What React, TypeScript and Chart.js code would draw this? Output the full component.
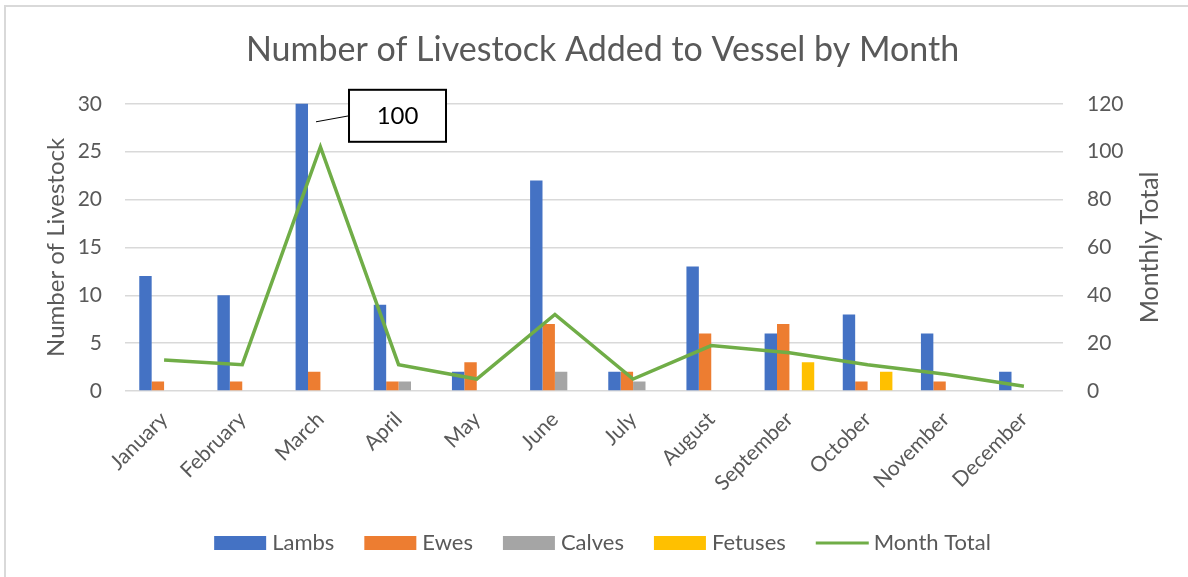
import React, { useEffect, useRef } from "react";
import { Chart, registerables } from "chart.js";

Chart.register(...registerables);

const months = ["January", "February", "March", "April", "May", "June", "July", "August", "September", "October", "November", "December"];
const lambs = [12, 10, 100, 9, 2, 22, 2, 13, 6, 8, 6, 2];
const ewes = [1, 1, 2, 1, 3, 7, 2, 6, 7, 1, 1, 0];
const calves = [0, 0, 0, 1, 0, 2, 1, 0, 0, 0, 0, 0];
const fetuses = [0, 0, 0, 0, 0, 0, 0, 0, 3, 2, 0, 0];
const monthTotal = [13, 11, 102, 11, 5, 32, 5, 19, 16, 11, 7, 2];
const leftTicks = { min: 0, max: 30, step: 5 };
const rightTicks = { min: 0, max: 120, step: 20 };
const calloutIndex = 2;
const rightTitle = "Monthly Total";

const TEXT = "#595959";
const FONT = "Lato, 'Open Sans', sans-serif";

const calloutPlugin = {
  id: "callout",
  afterDatasetsDraw(chart: any) {
    const meta = chart.getDatasetMeta(0);
    const bar = meta.data[calloutIndex];
    if (!bar) return;
    const { x, y, width } = bar.getProps(["x", "y", "width"], true);
    const top = Math.max(y, chart.chartArea.top);
    const right = x + width / 2;
    const ctx = chart.ctx;
    ctx.save();
    ctx.strokeStyle = "#000";
    ctx.lineWidth = 1;
    ctx.beginPath();
    ctx.moveTo(right + 8, top + 18);
    ctx.lineTo(right + 41, top + 12);
    ctx.stroke();
    ctx.fillStyle = "#fff";
    ctx.lineWidth = 2;
    ctx.fillRect(right + 41, top - 14, 97, 52);
    ctx.strokeRect(right + 41, top - 14, 97, 52);
    ctx.fillStyle = "#000";
    ctx.font = `24px ${FONT}`;
    ctx.textAlign = "center";
    ctx.textBaseline = "middle";
    ctx.fillText(String(lambs[calloutIndex]), right + 41 + 48.5, top + 12);
    ctx.restore();
  },
};

const rightTitlePlugin = {
  id: "rightTitle",
  afterDraw(chart: any) {
    const s = chart.scales.y1;
    const ctx = chart.ctx;
    ctx.save();
    ctx.translate(s.right - 17, (chart.chartArea.top + chart.chartArea.bottom) / 2);
    ctx.rotate(-Math.PI / 2);
    ctx.fillStyle = TEXT;
    ctx.font = `25px ${FONT}`;
    ctx.textAlign = "center";
    ctx.textBaseline = "middle";
    ctx.fillText(rightTitle, 0, 0);
    ctx.restore();
  },
};

const legendMarkPlugin = {
  id: "legendMarks",
  afterDraw(chart: any) {
    const legend = chart.legend;
    if (!legend || !legend.legendHitBoxes) return;
    const ctx = chart.ctx;
    ctx.save();
    legend.legendHitBoxes.forEach((hb: any, i: number) => {
      const item = legend.legendItems[i];
      const ds = chart.data.datasets[item.datasetIndex];
      const cy = hb.top + hb.height / 2;
      if (ds.type === "line") {
        ctx.strokeStyle = ds.borderColor;
        ctx.lineWidth = 3;
        ctx.beginPath();
        ctx.moveTo(hb.left, cy);
        ctx.lineTo(hb.left + 53, cy);
        ctx.stroke();
      } else {
        ctx.fillStyle = ds.backgroundColor;
        ctx.fillRect(hb.left, cy - 7, 52, 14);
      }
    });
    ctx.restore();
  },
};

export default function App() {
  const ref = useRef<HTMLCanvasElement | null>(null);
  useEffect(() => {
    if (!ref.current) return;
    const barCommon = { type: "bar" as const, yAxisID: "y", barPercentage: 1, categoryPercentage: 0.635 };
    const chart = new Chart(ref.current, {
      data: {
        labels: months,
        datasets: [
          { ...barCommon, label: "Lambs", data: lambs, backgroundColor: "#4472C4" },
          { ...barCommon, label: "Ewes", data: ewes, backgroundColor: "#ED7D31" },
          { ...barCommon, label: "Calves", data: calves, backgroundColor: "#A5A5A5" },
          { ...barCommon, label: "Fetuses", data: fetuses, backgroundColor: "#FFC000" },
          {
            type: "line" as const,
            label: "Month Total",
            data: monthTotal,
            yAxisID: "y1",
            borderColor: "#70AD47",
            backgroundColor: "#70AD47",
            borderWidth: 3.5,
            pointRadius: 0,
            tension: 0,
            order: -1,
          },
        ],
      } as any,
      options: {
        animation: false,
        responsive: false,
        devicePixelRatio: 1,
        layout: { padding: { left: 38, right: 21, top: 10, bottom: 13 } },
        plugins: {
          tooltip: { enabled: false },
          title: {
            display: true,
            text: "Number of Livestock Added to Vessel by Month",
            color: TEXT,
            font: { family: FONT, size: 34, weight: "normal" },
            padding: { top: 20, bottom: 33 },
          },
          legend: {
            position: "bottom",
            labels: {
              color: TEXT,
              font: { family: FONT, size: 22 },
              boxWidth: 47,
              boxHeight: 14,
              padding: 30,
              generateLabels: (chart: any) =>
                chart.data.datasets.map((ds: any, i: number) => ({
                  text: ds.label,
                  fillStyle: "rgba(0,0,0,0)",
                  strokeStyle: "rgba(0,0,0,0)",
                  lineWidth: 0,
                  hidden: false,
                  datasetIndex: i,
                  fontColor: TEXT,
                })),
            },
          },
        },
        scales: {
          x: {
            grid: { display: false },
            border: { display: false },
            ticks: { color: TEXT, font: { family: FONT, size: 21 }, minRotation: 45, maxRotation: 45, padding: 8 },
            afterFit: (s: any) => { s.height = 111; },
          },
          y: {
            position: "left",
            min: leftTicks.min,
            max: leftTicks.max,
            ticks: { stepSize: leftTicks.step, color: TEXT, font: { family: FONT, size: 21 }, padding: 23 },
            grid: { color: "#D9D9D9", lineWidth: 1.5, drawTicks: false },
            border: { display: false },
            title: { display: true, text: "Number of Livestock", color: TEXT, font: { family: FONT, size: 24 }, padding: 4 },
            afterFit: (s: any) => { s.width = 87; },
          },
          y1: {
            position: "right",
            min: rightTicks.min,
            max: rightTicks.max,
            ticks: { stepSize: rightTicks.step, color: TEXT, font: { family: FONT, size: 21 }, padding: 24 },
            grid: { display: false, drawTicks: false },
            border: { display: false },
            title: { display: false },
            afterFit: (s: any) => { s.width = 104; },
          },
        },
      },
      plugins: [calloutPlugin, legendMarkPlugin, rightTitlePlugin],
    } as any);
    return () => chart.destroy();
  }, []);
  return (
    <div style={{ position: "absolute", left: 0, top: 0, width: 1188, height: 577, background: "#fff", overflow: "hidden" }}>
      <div style={{ position: "absolute", left: 4, top: 5, width: 1300, height: 700, borderTop: "2px solid #D9D9D9", borderLeft: "2px solid #D9D9D9" }} />
      <canvas ref={ref} width={1188} height={577} style={{ position: "absolute", left: 0, top: 0, width: 1188, height: 577 }} />
    </div>
  );
}
